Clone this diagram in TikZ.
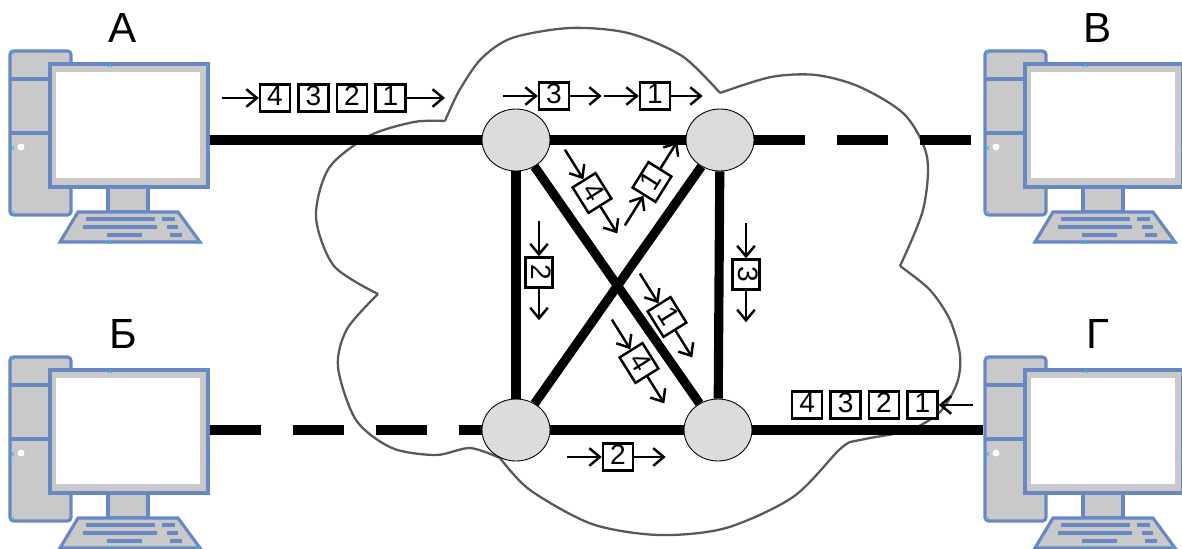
\documentclass[tikz,border=0pt]{standalone}
\usepackage{fontspec}
\setmainfont{Liberation Sans}
\usepackage{xcolor}
\usepackage{tikz}
\usetikzlibrary{shapes.geometric, arrows.meta, positioning}

\definecolor{pcblue}{RGB}{104,136,196}
\definecolor{pcgray}{RGB}{201,201,201}
\definecolor{hubgray}{RGB}{220,220,218}
\definecolor{selcyan}{RGB}{70,170,230}

% workstation: name, x, y (top left of the tower), letter
\newcommand{\workstation}[4]{%
  \begin{scope}[shift={(#2,#3)}]
    \node[tower] (#1t) at (30.5,82) {};
    \draw[pcline] (0,28) -- (40,28) (0,82) -- (40,82);
    \fill[white] (11,96) circle (0.07cm);
    \node[screen] (#1) at (119,74.5) {};
    \fill[white] (46,21) rectangle (190,127);
    \draw[pcline, fill=pcgray] (98,136) rectangle (138,161);
    \draw[pcline, fill=pcgray] (68,161) -- (168,161) -- (190,191) -- (50,191) -- cycle;
    \draw[pcline] (76,168) -- (145,168) (152,168) -- (165,168)
                  (73,176) -- (147,176) (157,176) -- (168,176)
                  (97,184) -- (132,184) (160,184) -- (172,184);
    \node[pclabel] (#1c) at (113,-23) {#4};
    \foreach \hx/\hy in {2/1, 2/97, 2/162, 100/14, 198/14, 198/99, 100/191, 188/191}
      \draw[selmark] (\hx,\hy) +(-2,-2) -- +(2,2) +(-2,2) -- +(2,-2);
  \end{scope}}

% packet moving along a link: name, x, y, angle, number
\newcommand{\pktmove}[5]{%
  \node[pkt, rotate=#4] (#1) at (#2,#3) {#5};
  \coordinate (#1in) at ([shift={(#4+180:0.7cm)}]#1.west);
  \coordinate (#1out) at ([shift={(#4:0.63cm)}]#1.east);
  \draw[flow] (#1in) -- (#1.west);
  \draw[flow] (#1.east) -- (#1out);}

\begin{document}
\begin{tikzpicture}[x=0.02cm, y=-0.02cm,
    router/.style={draw, ellipse, fill=hubgray, line width=0.5pt, minimum width=1.36cm, minimum height=1.24cm, inner sep=0pt},
    pkt/.style={draw, rectangle, fill=white, line width=1.4pt, minimum width=0.6cm, minimum height=0.54cm, inner sep=0pt, font=\fontsize{16}{16}\selectfont, text height=0.9em, text depth=0pt},
    wire/.style={line width=5.2pt},
    dashwire/.style={wire, dash pattern=on 1.02cm off 0.64cm},
    flow/.style={line width=1.4pt, -{Straight Barb[length=6pt, width=10pt, line width=1.4pt]}},
    cloudline/.style={draw=black!65, line width=1.3pt, line join=round},
    tower/.style={draw=pcblue, fill=pcgray, line width=1.8pt, rounded corners=2pt, minimum width=1.22cm, minimum height=3.28cm, inner sep=0pt},
    screen/.style={draw=pcblue, fill=pcgray, line width=1.8pt, minimum width=3.16cm, minimum height=2.46cm, inner sep=0pt},
    pcline/.style={draw=pcblue, line width=1.8pt},
    pclabel/.style={font=\fontsize{24}{24}\selectfont, inner sep=0pt},
    selmark/.style={draw=selcyan, line width=0.4pt}]
    \useasboundingbox (0,0) rectangle (1182,548);

    % Cloud
    \draw[cloudline] plot[smooth] coordinates {(445,121) (459,91) (481,59) (512,38) (570,28) (628,33) (682,56) (720,93)};
    \draw[cloudline] plot[smooth] coordinates {(720,93) (771,77) (816,75) (860,87) (905,115) (927,157) (923,210) (900,266)};
    \draw[cloudline] plot[smooth] coordinates {(900,266) (930,290) (950,320) (960,355) (957,383) (940,412) (910,430) (870,438) (850,442)};
    \draw[cloudline] plot[smooth] coordinates {(850,442) (838,451) (793,497) (726,528) (659,535) (592,524) (530,490) (500,458)};
    \draw[cloudline] plot[smooth] coordinates {(500,458) (470,448) (436,455) (392,448) (356,420) (338,367) (347,329) (378,294)};
    \draw[cloudline] plot[smooth] coordinates {(378,294) (334,266) (316,217) (329,168) (369,136) (414,122) (445,121)};

    % Workstations
    \workstation{pcA}{10}{51}{А}
    \workstation{pcB}{10}{357}{Б}
    \workstation{pcV}{985}{51}{В}
    \workstation{pcG}{985}{357}{Г}

    % Routers
    \node[router] (R1) at (516,140) {};
    \node[router] (R2) at (720,140) {};
    \node[router] (R3) at (516,430) {};
    \node[router] (R4) at (718,430) {};

    % Links
    \draw[wire] (pcA.east |- R1) -- (R1);
    \draw[wire] (R1) -- (R2);
    \draw[wire] (R3) -- (R4);
    \draw[wire] (R1) -- (R3);
    \draw[wire] (R2) -- (R4);
    \draw[wire] (R1) -- (R4);
    \draw[wire] (R2) -- (R3);
    \draw[wire] (R4) -- (pcGt.west |- R4);
    \draw[dashwire] (pcB.east |- R3) -- (R3);
    \draw[dashwire] (R2) -- (pcVt.west |- R2);

    % Message leaving A
    \node[pkt] (a4) at (275,98) {4};
    \node[pkt, right=0.12cm of a4] (a3) {3};
    \node[pkt, right=0.12cm of a3] (a2) {2};
    \node[pkt, right=0.12cm of a2] (a1) {1};
    \coordinate (ain) at (222,98);
    \coordinate (aout) at (445,98);
    \draw[flow] (ain) -- (a4);
    \draw[flow] (a1) -- (aout);

    % Message arriving at G
    \node[pkt] (g1) at (922.5,405) {1};
    \node[pkt, left=0.12cm of g1] (g2) {2};
    \node[pkt, left=0.12cm of g2] (g3) {3};
    \node[pkt, left=0.12cm of g3] (g4) {4};
    \coordinate (gin) at (973,405);
    \draw[flow] (gin) -- (g1);

    % Packets on their own routes
    \pktmove{b3}{554}{96}{0}{3}
    \pktmove{b1}{655}{96}{0}{1}
    \pktmove{c2}{539}{272.5}{-90}{2}
    \pktmove{c3}{746}{274.5}{-90}{3}
    \pktmove{d2}{618}{457}{0}{2}
    \pktmove{x4}{592}{193}{-58}{4}
    \pktmove{x1}{652}{182}{58}{1}
    \pktmove{y1}{667}{317}{-58}{1}
    \pktmove{y4}{639}{363}{-58}{4}
\end{tikzpicture}
\end{document}
